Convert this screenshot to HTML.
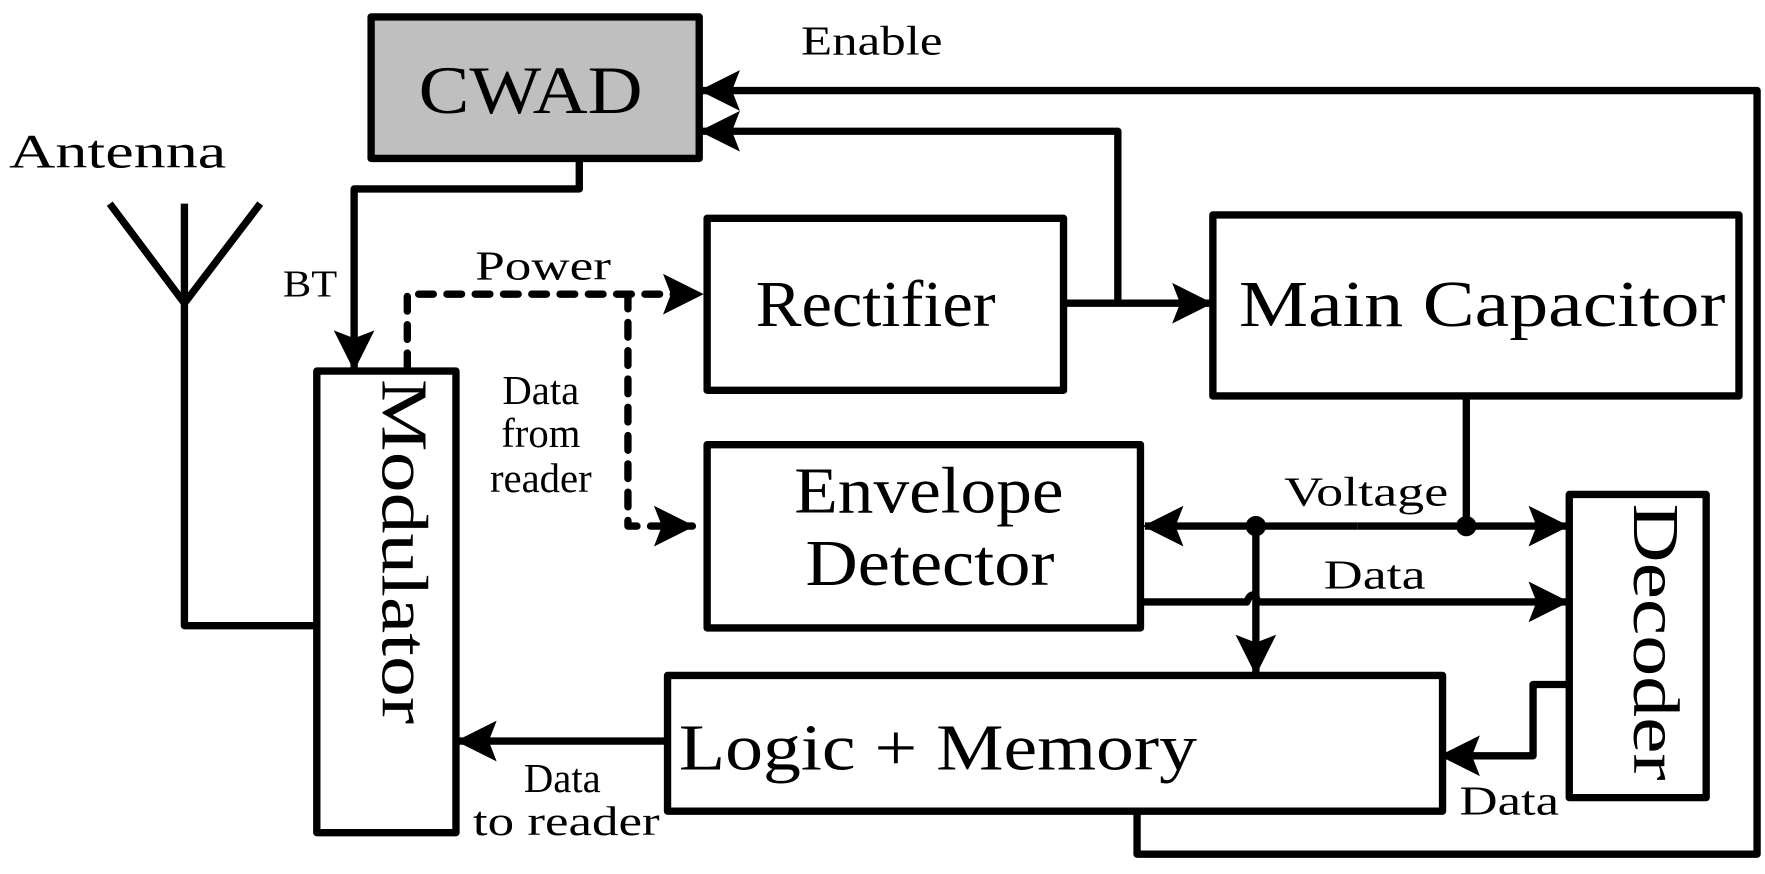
<!DOCTYPE html>
<html><head><meta charset="utf-8"><style>
html,body{margin:0;padding:0;background:#fff;}
svg{display:block;}
text{font-family:"Liberation Serif",serif;fill:#000;}
</style></head><body>
<svg width="1765" height="874" viewBox="0 0 1560 772.5" preserveAspectRatio="none" xmlns="http://www.w3.org/2000/svg">
<defs>
<marker id="a" viewBox="0 0 36 36" refX="34" refY="18" markerWidth="36" markerHeight="36" markerUnits="userSpaceOnUse" orient="auto">
<path d="M0,0 L36,18 L0,36 L7,18 Z" fill="#000"/>
</marker>
</defs>
<g fill="none" stroke="#000" stroke-width="6.5" stroke-linejoin="round">
<rect x="328" y="15" width="290" height="125" fill="#bfbfbf"/>
<rect x="280" y="328" width="123" height="408"/>
<rect x="625" y="193" width="315" height="152"/>
<rect x="1072" y="190" width="465" height="160"/>
<rect x="625" y="393" width="383" height="162"/>
<rect x="1387" y="437" width="121" height="268"/>
<rect x="590" y="597" width="685" height="120"/>
<polyline points="97,180 163,268 230,180"/>
<polyline points="163,180 163,553 280,553"/>
<polyline points="512,140 512,167 313,167 313,326" marker-end="url(#a)"/>
<line x1="940" y1="268" x2="1070" y2="268" marker-end="url(#a)"/>
<polyline points="988,268 988,116 620,116" marker-end="url(#a)"/>
<polyline points="1005,717 1005,755 1553,755 1553,80 620,80" marker-end="url(#a)"/>
<line x1="1200" y1="465" x2="1012" y2="465" marker-end="url(#a)"/>
<line x1="1200" y1="465" x2="1385" y2="465" marker-end="url(#a)"/>
<line x1="1296" y1="350" x2="1296" y2="465"/>
<line x1="1110" y1="465" x2="1110" y2="595" marker-end="url(#a)"/>
<path d="M1008,532 L1102,532 Q1107,520 1112,532 L1385,532" marker-end="url(#a)"/>
<polyline points="1387,605 1355,605 1355,668 1274,668" marker-end="url(#a)"/>
<line x1="590" y1="655" x2="405" y2="655" marker-end="url(#a)"/>
<polyline points="360,325 360,260 620,260" stroke-dasharray="13,12" stroke-linecap="round" marker-end="url(#a)"/>
<polyline points="555,260 555,465 612,465" stroke-dasharray="13,12" stroke-linecap="round" marker-end="url(#a)"/>
</g>
<circle cx="1110" cy="465" r="9"/>
<circle cx="1296" cy="465" r="9"/>
<text x="370" y="100" font-size="60" textLength="198" lengthAdjust="spacingAndGlyphs">CWAD</text>
<text x="8" y="148" font-size="42" textLength="192" lengthAdjust="spacingAndGlyphs">Antenna</text>
<text x="708" y="48" font-size="36" textLength="125" lengthAdjust="spacingAndGlyphs">Enable</text>
<text x="250" y="262" font-size="34" textLength="48" lengthAdjust="spacingAndGlyphs">BT</text>
<text x="420" y="247" font-size="36" textLength="120" lengthAdjust="spacingAndGlyphs">Power</text>
<text x="478" y="357" font-size="36" text-anchor="middle">Data</text>
<text x="478" y="395" font-size="36" text-anchor="middle">from</text>
<text x="478" y="435" font-size="36" text-anchor="middle">reader</text>
<text x="668" y="288" font-size="58" textLength="212" lengthAdjust="spacingAndGlyphs">Rectifier</text>
<text x="1095" y="288" font-size="58" textLength="430" lengthAdjust="spacingAndGlyphs">Main Capacitor</text>
<text x="702" y="453" font-size="58" textLength="238" lengthAdjust="spacingAndGlyphs">Envelope</text>
<text x="712" y="517" font-size="58" textLength="220" lengthAdjust="spacingAndGlyphs">Detector</text>
<text x="1135" y="447" font-size="36" textLength="145" lengthAdjust="spacingAndGlyphs">Voltage</text>
<text x="1170" y="520" font-size="36" textLength="90" lengthAdjust="spacingAndGlyphs">Data</text>
<text x="1290" y="720" font-size="36" textLength="88" lengthAdjust="spacingAndGlyphs">Data</text>
<text x="600" y="680" font-size="58" textLength="458" lengthAdjust="spacingAndGlyphs">Logic + Memory</text>
<text x="497" y="700" font-size="36" text-anchor="middle">Data</text>
<text x="418" y="738" font-size="36" textLength="165" lengthAdjust="spacingAndGlyphs">to reader</text>
<text transform="translate(338,335) rotate(90)" font-size="58" textLength="305" lengthAdjust="spacingAndGlyphs">Modulator</text>
<text transform="translate(1444,445) rotate(90)" font-size="58" textLength="245" lengthAdjust="spacingAndGlyphs">Decoder</text>
</svg>
</body></html>
